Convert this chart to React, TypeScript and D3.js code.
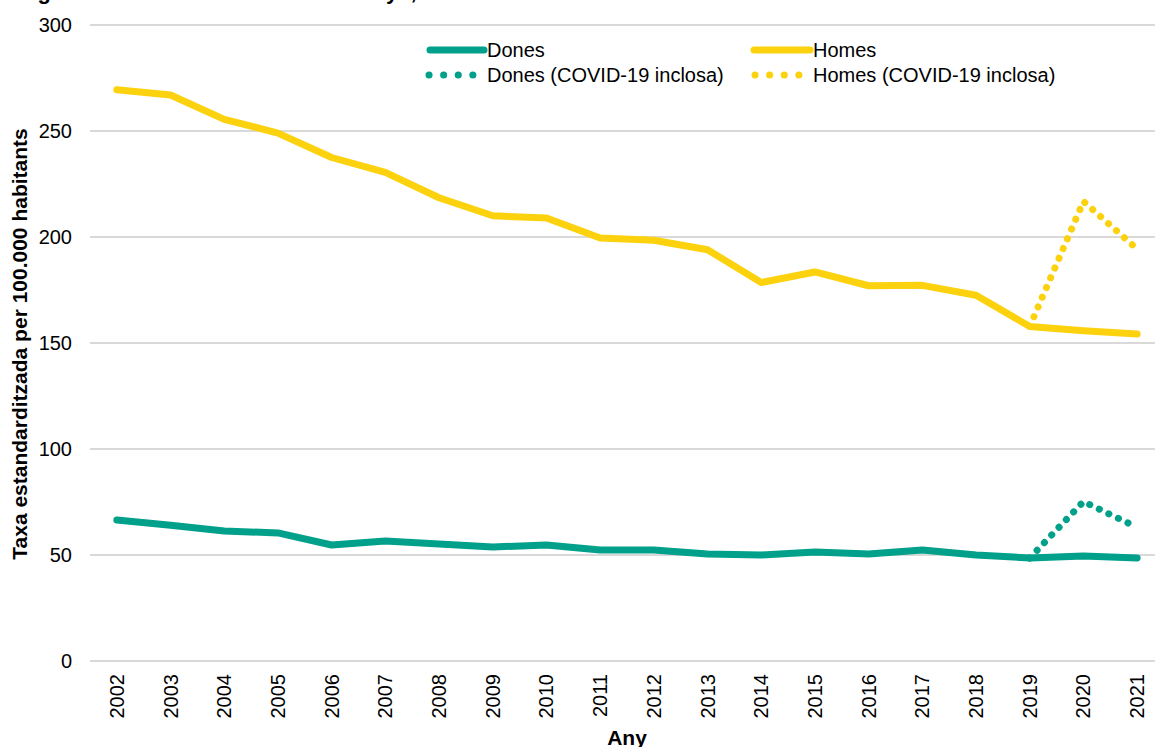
import React from "react";
import * as d3 from "d3";

const years: string[] = ["2002","2003","2004","2005","2006","2007","2008","2009","2010","2011","2012","2013","2014","2015","2016","2017","2018","2019","2020","2021"];
const dones: number[] = [66.5, 64, 61.3, 60.4, 54.7, 56.6, 55.2, 53.8, 54.7, 52.4, 52.4, 50.5, 50, 51.4, 50.5, 52.4, 50, 48.6, 49.5, 48.6];
const homes: number[] = [269.5, 267, 255.5, 249, 237.5, 230.5, 218.5, 210, 209, 199.5, 198.5, 194, 178.5, 183.5, 177, 177.2, 172.5, 157.8, 155.8, 154.2];
const covidYears: string[] = ["2019", "2020", "2021"];
const donesCovid: number[] = [48.6, 75.2, 63];
const homesCovid: number[] = [157.8, 216.8, 194.3];
const yTicks: number[] = [0, 50, 100, 150, 200, 250, 300];

const TEAL = "#00A08A";
const YELLOW = "#FCD20F";
const FONT = "'Liberation Sans', Arial, sans-serif";

export default function App() {
  const W = 1155, H = 747;
  const x0 = 90, x1 = 1164;
  const x = d3.scaleBand<string>().domain(years).range([x0, x1]);
  const y = d3.scaleLinear().domain([0, 300]).range([661, 25]);
  const cx = (yr: string) => (x(yr) as number) + x.bandwidth() / 2;
  const line = d3.line<[string, number]>().x(d => cx(d[0])).y(d => y(d[1]));
  const zip = (ys: string[], vs: number[]) => ys.map((yr, i) => [yr, vs[i]] as [string, number]);

  return (
    <svg width={W} height={H} style={{ position: "absolute", left: 0, top: 0, background: "#fff" }} fontFamily={FONT}>
      <text x={18} y={-1} fontSize={22} fontWeight="bold" fill="#000">Figura 2. Mortalitat total de Catalunya, 2002-2021</text>
      {yTicks.map(t => (
        <g key={t}>
          <line x1={x0} x2={W} y1={y(t)} y2={y(t)} stroke="#D9D9D9" strokeWidth={2} />
          <text x={72} y={y(t)} dy="0.35em" textAnchor="end" fontSize={20} fill="#000">{t}</text>
        </g>
      ))}
      {years.map(yr => (
        <text key={yr} transform={`translate(${cx(yr)},${674}) rotate(-90)`} textAnchor="end" dy="0.35em" fontSize={20} fill="#000">{yr}</text>
      ))}
      <text transform={`translate(27,${344}) rotate(-90)`} textAnchor="middle" fontSize={21} fontWeight="bold" fill="#000">Taxa estandarditzada per 100.000 habitants</text>
      <text x={(x0 + x1) / 2} y={745} textAnchor="middle" fontSize={21} fontWeight="bold" fill="#000">Any</text>

      <path d={line(zip(covidYears, homesCovid)) || ""} fill="none" stroke={YELLOW} strokeWidth={7} strokeLinecap="round" strokeDasharray="0.1 10.5" />
      <path d={line(zip(covidYears, donesCovid)) || ""} fill="none" stroke={TEAL} strokeWidth={7} strokeLinecap="round" strokeDasharray="0.1 10.5" />
      <path d={line(zip(years, homes)) || ""} fill="none" stroke={YELLOW} strokeWidth={7} strokeLinecap="round" strokeLinejoin="round" />
      <path d={line(zip(years, dones)) || ""} fill="none" stroke={TEAL} strokeWidth={7} strokeLinecap="round" strokeLinejoin="round" />

      <g>
        <line x1={430} x2={484} y1={50} y2={50} stroke={TEAL} strokeWidth={7} strokeLinecap="round" />
        <text x={487} y={50} dy="0.35em" fontSize={20} fill="#000">Dones</text>
        <line x1={754} x2={810} y1={50} y2={50} stroke={YELLOW} strokeWidth={7} strokeLinecap="round" />
        <text x={813} y={50} dy="0.35em" fontSize={20} fill="#000">Homes</text>
        <line x1={429} x2={474} y1={75} y2={75} stroke={TEAL} strokeWidth={7} strokeLinecap="round" strokeDasharray="0.1 14.5" />
        <text x={487} y={75} dy="0.35em" fontSize={20} fill="#000">Dones (COVID-19 inclosa)</text>
        <line x1={755} x2={800} y1={75} y2={75} stroke={YELLOW} strokeWidth={7} strokeLinecap="round" strokeDasharray="0.1 14.5" />
        <text x={813} y={75} dy="0.35em" fontSize={20} fill="#000">Homes (COVID-19 inclosa)</text>
      </g>
    </svg>
  );
}
